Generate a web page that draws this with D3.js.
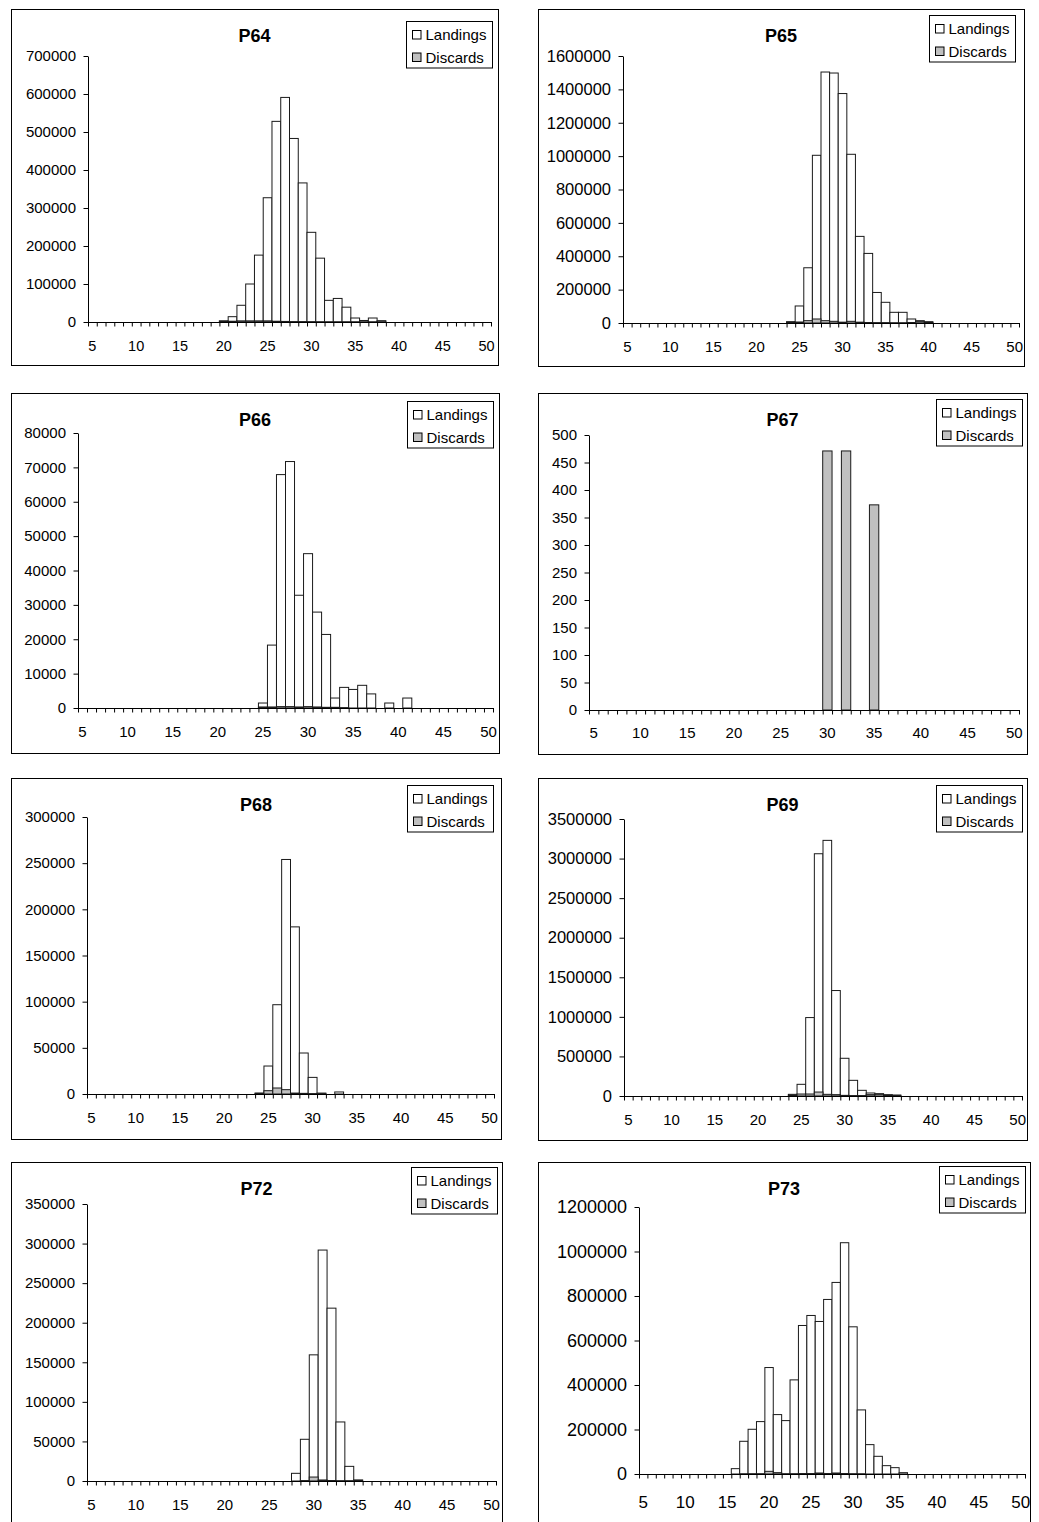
<!DOCTYPE html>
<html>
<head>
<meta charset="utf-8">
<script src="https://cdn.jsdelivr.net/npm/d3@7"></script>
<style>
  body { margin: 0; background: #fff; }
  text { font-family: Arial, "Liberation Sans", sans-serif; fill: #000; }
</style>
</head>
<body>
<div id="chart"></div>
<script>
// length classes (cm)
var lengths = ["5","6","7","8","9","10","11","12","13","14",
               "15","16","17","18","19","20","21","22","23","24",
               "25","26","27","28","29","30","31","32","33","34",
               "35","36","37","38","39","40","41","42","43","44",
               "45","46","47","48","49","50"];
var seriesNames = ["Landings", "Discards"];
var panelNames = ["P64", "P65", "P66", "P67", "P68", "P69", "P72", "P73"];
var yMax  = [700000, 1600000, 80000, 500, 300000, 3500000, 350000, 1200000];
var yStep = [100000, 200000, 10000, 50, 50000, 500000, 50000, 200000];

var p64Landings = [0,0,0,0,0,0,0,0,0,0,
  0,0,0,0,0,3000,14000,44000,100000,176000,
  327000,528000,591000,483000,366000,236000,168000,57000,62000,39000,
  10500,4000,10500,3500,0,0,0,0,0,0,
  0,0,0,0,0,0];
var p64Discards = [0,0,0,0,0,0,0,0,0,0,
  0,0,0,0,0,2000,2000,3000,3000,3000,
  3000,2000,1500,1000,1000,800,500,300,300,300,
  200,200,200,200,0,0,0,0,0,0,
  0,0,0,0,0,0];
var p65Landings = [0,0,0,0,0,0,0,0,0,0,
  0,0,0,0,0,0,0,0,0,8000,
  102000,331000,1005000,1504000,1498000,1375000,1011000,519000,417000,183000,
  124000,64000,64000,24000,14000,8000,0,0,0,0,
  0,0,0,0,0,0];
var p65Discards = [0,0,0,0,0,0,0,0,0,0,
  0,0,0,0,0,0,0,0,0,4000,
  6000,14000,24000,14000,10000,5000,10000,5000,3000,2000,
  2000,1000,1000,3000,8000,3000,0,0,0,0,
  0,0,0,0,0,0];
var p66Landings = [0,0,0,0,0,0,0,0,0,0,
  0,0,0,0,0,0,0,0,0,0,
  1450,18300,67900,71700,32800,44900,27900,21400,2900,6000,
  5400,6600,4100,0,1450,0,2900,0,0,0,
  0,0,0,0,0,0];
var p66Discards = [0,0,0,0,0,0,0,0,0,0,
  0,0,0,0,0,0,0,0,0,0,
  300,300,400,400,300,400,300,200,200,100,
  0,0,0,0,0,0,0,0,0,0,
  0,0,0,0,0,0];
var p67Landings = [0,0,0,0,0,0,0,0,0,0,
  0,0,0,0,0,0,0,0,0,0,
  0,0,0,0,0,0,0,0,0,0,
  0,0,0,0,0,0,0,0,0,0,
  0,0,0,0,0,0];
var p67Discards = [0,0,0,0,0,0,0,0,0,0,
  0,0,0,0,0,0,0,0,0,0,
  0,0,0,0,0,471,0,471,0,0,
  373,0,0,0,0,0,0,0,0,0,
  0,0,0,0,0,0];
var p68Landings = [0,0,0,0,0,0,0,0,0,0,
  0,0,0,0,0,0,0,0,0,1000,
  30300,96700,254000,181000,44400,18000,1000,0,2200,0,
  0,0,0,0,0,0,0,0,0,0,
  0,0,0,0,0,0];
var p68Discards = [0,0,0,0,0,0,0,0,0,0,
  0,0,0,0,0,0,0,0,0,700,
  3600,6500,4700,1000,700,400,300,0,0,0,
  0,0,0,0,0,0,0,0,0,0,
  0,0,0,0,0,0];
var p69Landings = [0,0,0,0,0,0,0,0,0,0,
  0,0,0,0,0,0,0,0,0,21000,
  147600,991000,3061000,3230000,1332600,476500,198000,71700,38000,29500,
  17000,12600,0,0,0,0,0,0,0,0,
  0,0,0,0,0,0];
var p69Discards = [0,0,0,0,0,0,0,0,0,0,
  0,0,0,0,0,0,0,0,0,12000,
  25000,25000,50000,21000,17000,8000,5000,5000,17000,21000,
  8000,5000,0,0,0,0,0,0,0,0,
  0,0,0,0,0,0];
var p72Landings = [0,0,0,0,0,0,0,0,0,0,
  0,0,0,0,0,0,0,0,0,0,
  0,0,0,9700,52700,159400,291800,218400,74600,18500,
  1300,0,0,0,0,0,0,0,0,0,
  0,0,0,0,0,0];
var p72Discards = [0,0,0,0,0,0,0,0,0,0,
  0,0,0,0,0,0,0,0,0,0,
  0,0,0,0,500,5000,1300,600,300,300,
  800,0,0,0,0,0,0,0,0,0,
  0,0,0,0,0,0];
var p73Landings = [0,0,0,0,0,0,0,0,0,0,
  0,24000,147000,201000,235500,478500,267000,240000,423000,667500,
  712500,685500,784500,861000,1039500,661500,288000,132000,79500,37500,
  28500,6000,0,0,0,0,0,0,0,0,
  0,0,0,0,0,0];
var p73Discards = [0,0,0,0,0,0,0,0,0,0,
  0,0,500,1000,1000,12000,6000,1000,1000,2000,
  2000,4500,2000,4500,2000,1000,500,0,0,0,
  0,0,0,0,0,0,0,0,0,0,
  0,0,0,0,0,0];

var landings = [p64Landings, p65Landings, p66Landings, p67Landings, p68Landings, p69Landings, p72Landings, p73Landings];
var discards = [p64Discards, p65Discards, p66Discards, p67Discards, p68Discards, p69Discards, p72Discards, p73Discards];

// where each little chart sits on the page
var frames = [
  {box: [11, 9, 498, 365],     plot: [88, 56, 491, 322],     legend: [406, 21],   yFont: 15,   xFont: 14.5, xLab: 28.5},
  {box: [538, 9, 1024, 366],   plot: [623, 56, 1019, 323],   legend: [929, 15],   yFont: 16.5, xFont: 15,   xLab: 28.5},
  {box: [11, 393, 499, 753],   plot: [78, 433, 493, 708],    legend: [407, 401],  yFont: 15,   xFont: 15,   xLab: 28.5},
  {box: [538, 393, 1027, 754], plot: [589, 435, 1019, 710],  legend: [936, 399],  yFont: 15,   xFont: 15,   xLab: 28},
  {box: [11, 778, 501, 1139],  plot: [87, 817, 494, 1094],   legend: [407, 785],  yFont: 15,   xFont: 15,   xLab: 28.5},
  {box: [538, 778, 1027, 1140],plot: [624, 819, 1022, 1096], legend: [936, 785],  yFont: 16.5, xFont: 15,   xLab: 28.5},
  {box: [11, 1162, 502, 1545], plot: [87, 1204, 496, 1481],  legend: [411, 1167], yFont: 15,   xFont: 15,   xLab: 28.5},
  {box: [538, 1162, 1030, 1545],plot: [639, 1207, 1025, 1474],legend: [939, 1166], yFont: 18,   xFont: 17,   xLab: 34}
];
var fills = ["#ffffff", "#c0c0c0"];
var fontFam = "Arial, 'Liberation Sans', sans-serif";

var svg = d3.select("#chart").append("svg")
  .attr("width", 1039)
  .attr("height", 1522);

panelNames.forEach(function(name, i){
  var f = frames[i];
  var g = svg.append("g").attr("class", "panel");

  g.append("rect")
    .attr("x", f.box[0] + 0.5).attr("y", f.box[1] + 0.5)
    .attr("width", f.box[2] - f.box[0]).attr("height", f.box[3] - f.box[1])
    .attr("fill", "none").attr("stroke", "#000");

  var x = d3.scaleBand().domain(lengths).range([f.plot[0], f.plot[2]]).padding(0);
  var xEdge = d3.scaleLinear().domain([0, lengths.length]).range([f.plot[0], f.plot[2]]);
  var y = d3.scaleLinear().domain([0, yMax[i]]).range([f.plot[3], f.plot[1]]);

  // landings first, discards drawn over them (100% overlap, no gap)
  [landings[i], discards[i]].forEach(function(vals, k){
    g.append("g").selectAll("rect")
      .data(vals)
      .enter()
      .append("rect")
      .attr("x", function(d, j){ return x(lengths[j]); })
      .attr("width", x.bandwidth())
      .attr("y", function(d){ return y(d); })
      .attr("height", function(d){ return y(0) - y(d); })
      .attr("fill", fills[k])
      .attr("stroke", "#1a1a1a")
      .attr("stroke-width", 1);
  });

  // y axis
  g.append("g")
    .attr("transform", "translate(" + f.plot[0] + ",0)")
    .call(d3.axisLeft(y)
      .tickValues(d3.range(0, yMax[i] + yStep[i] / 2, yStep[i]))
      .tickSize(4.5).tickSizeOuter(0).tickPadding(7.5)
      .tickFormat(d3.format("d")))
    .attr("font-size", f.yFont)
    .attr("font-family", fontFam);

  // x tick marks between length classes
  g.append("g")
    .attr("transform", "translate(0," + f.plot[3] + ")")
    .call(d3.axisBottom(xEdge)
      .tickValues(d3.range(0, lengths.length + 1))
      .tickSize(4.5).tickSizeOuter(0)
      .tickFormat(""));

  // x labels every 5 cm
  g.append("g")
    .attr("transform", "translate(0," + f.plot[3] + ")")
    .call(d3.axisBottom(x)
      .tickValues(lengths.filter(function(l){ return +l % 5 === 0; }))
      .tickSize(0).tickPadding(0))
    .attr("font-size", f.xFont)
    .attr("font-family", fontFam)
    .call(function(s){
      s.select(".domain").remove();
      s.selectAll("text").attr("y", f.xLab).attr("dy", 0);
    });

  g.append("text")
    .attr("x", (f.box[0] + f.box[2]) / 2)
    .attr("y", f.box[1] + 33)
    .attr("text-anchor", "middle")
    .attr("font-weight", "bold")
    .attr("font-size", 18)
    .text(name);

  // legend
  var lg = g.append("g").attr("transform", "translate(" + f.legend[0] + "," + f.legend[1] + ")");
  lg.append("rect")
    .attr("x", 0.5).attr("y", 0.5)
    .attr("width", 86).attr("height", 46.5)
    .attr("fill", "#fff").attr("stroke", "#000");
  lg.selectAll("rect.sw")
    .data(seriesNames)
    .enter()
    .append("rect")
    .attr("class", "sw")
    .attr("x", 6.5)
    .attr("y", function(d, k){ return 9.5 + k * 22.5; })
    .attr("width", 8.5).attr("height", 8.5)
    .attr("fill", function(d, k){ return fills[k]; })
    .attr("stroke", "#000");
  lg.selectAll("text")
    .data(seriesNames)
    .enter()
    .append("text")
    .attr("x", 19.5)
    .attr("y", function(d, k){ return 18.5 + k * 23; })
    .attr("font-size", 15)
    .text(function(d){ return d; });
});
</script>
</body>
</html>
